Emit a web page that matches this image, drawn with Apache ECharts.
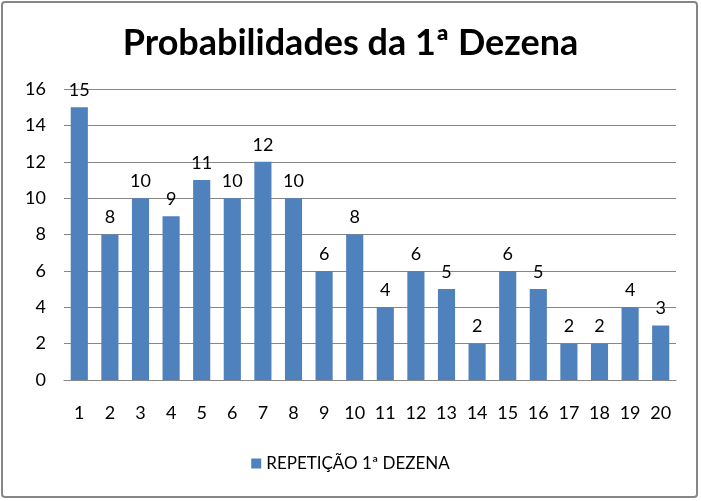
<!DOCTYPE html>
<html><head><meta charset="utf-8">
<script src="https://cdn.jsdelivr.net/npm/echarts@6/dist/echarts.min.js"></script>
<style>html,body{margin:0;padding:0;background:#fff}#c{width:701px;height:501px}</style>
</head><body><div id="c"></div>
<script>
const categories = ['1','2','3','4','5','6','7','8','9','10','11','12','13','14','15','16','17','18','19','20'];
const values = [15,8,10,9,11,10,12,10,6,8,4,6,5,2,6,5,2,2,4,3];
const seriesName = 'REPETIÇÃO 1ª DEZENA';
const titleText = 'Probabilidades da 1ª Dezena';

const chart = echarts.init(document.getElementById('c'));
chart.setOption({
  animation: false,
  graphic: [{type:'rect', shape:{x:2,y:2,width:695,height:495,r:3}, style:{fill:'none',stroke:'#868686',lineWidth:2}, silent:true}],
  title: {text: titleText, left: 'center', top: 20,
    textStyle:{fontFamily:'Lato', fontWeight:'bold', fontSize:36, color:'#000'}},
  legend: {bottom: 24, left:'center', itemWidth:10, itemHeight:10, icon:'rect', itemGap:8,
    textStyle:{fontFamily:'Lato', fontSize:17, color:'#000'}, data:[seriesName]},
  grid: {left: 64, right: 25, top: 89, bottom: 121, containLabel:false},
  xAxis: {type:'category', data: categories,
    axisLine:{lineStyle:{color:'#868686'}}, axisTick:{show:false},
    axisLabel:{fontFamily:'Lato', fontSize:18, color:'#000', margin:24}},
  yAxis: {type:'value', min:0, max:16, interval:2,
    axisLine:{show:false}, axisTick:{show:false},
    splitLine:{lineStyle:{color:'#868686'}},
    axisLabel:{fontFamily:'Lato', fontSize:18, color:'#000', margin:18}},
  series: [{name: seriesName, type:'bar', data: values, barCategoryGap:'44%',
    itemStyle:{color:'#4F81BD'},
    label:{show:true, position:'top', distance:8, fontFamily:'Lato', fontSize:18, color:'#000'}}]
});
</script></body></html>
